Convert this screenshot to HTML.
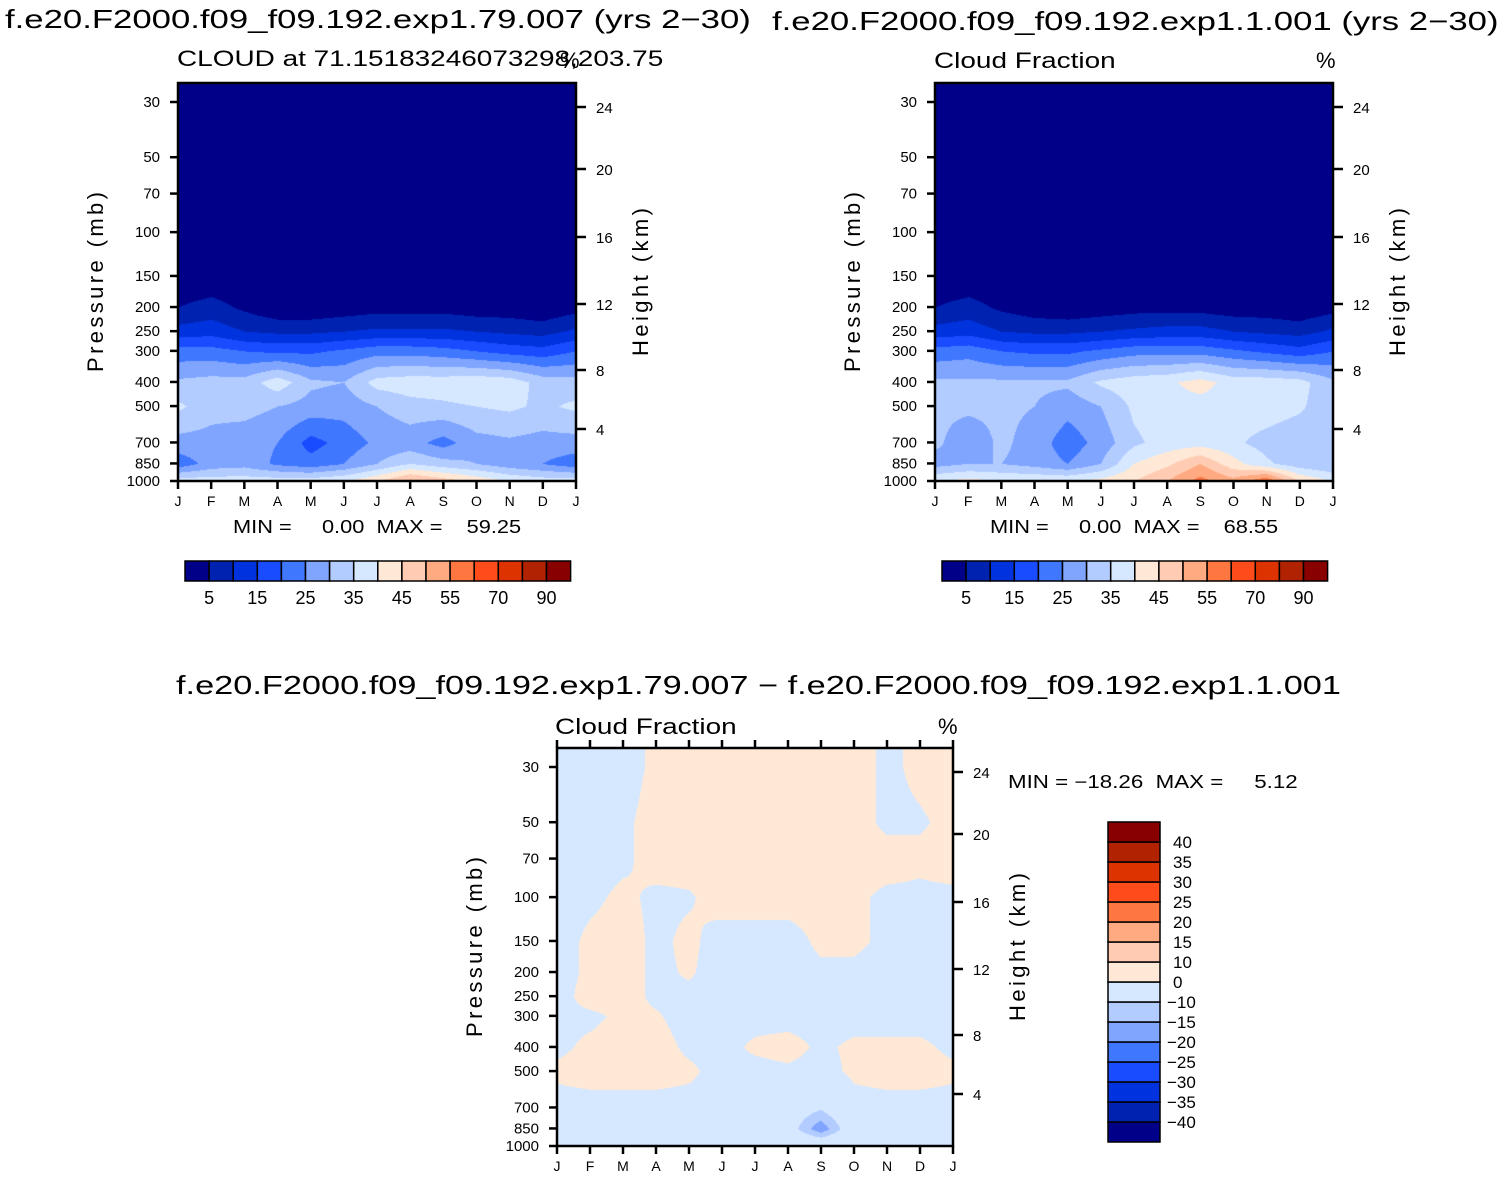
<!DOCTYPE html>
<html><head><meta charset="utf-8">
<style>
body{margin:0;background:#fff;width:1502px;height:1184px;overflow:hidden;position:relative;font-family:"Liberation Sans",sans-serif;color:#000}
.t{position:absolute;white-space:pre;line-height:1;transform-origin:0 0}
canvas{position:absolute}
svg{position:absolute;left:0;top:0}
</style></head><body>
<div class="t" style="left:5px;top:6px;font-size:26px;transform:scaleX(1.335)">f.e20.F2000.f09_f09.192.exp1.79.007 (yrs 2−30)</div>
<div class="t" style="left:772px;top:8px;font-size:26px;transform:scaleX(1.335)">f.e20.F2000.f09_f09.192.exp1.1.001 (yrs 2−30)</div>
<div class="t" style="left:177px;top:48px;font-size:22px;transform:scaleX(1.27)">CLOUD at 71.15183246073298,203.75</div>
<div class="t" style="left:560px;top:50px;font-size:22px">%</div>
<div class="t" style="left:934px;top:50px;font-size:22px;transform:scaleX(1.27)">Cloud Fraction</div>
<div class="t" style="left:1316px;top:50px;font-size:22px">%</div>
<div class="t" style="left:176px;top:672px;font-size:26px;transform:scaleX(1.32)">f.e20.F2000.f09_f09.192.exp1.79.007 − f.e20.F2000.f09_f09.192.exp1.1.001</div>
<div class="t" style="left:555px;top:716px;font-size:22px;transform:scaleX(1.27)">Cloud Fraction</div>
<div class="t" style="left:938px;top:716px;font-size:22px">%</div>
<div class="t" style="left:233px;top:518px;font-size:18px;transform:scaleX(1.21)">MIN =     0.00  MAX =    59.25</div>
<div class="t" style="left:990px;top:518px;font-size:18px;transform:scaleX(1.21)">MIN =     0.00  MAX =    68.55</div>
<div class="t" style="left:1008px;top:773px;font-size:18px;transform:scaleX(1.24)">MIN = −18.26  MAX =     5.12</div>
<canvas id="c1" width="398" height="398" style="left:178px;top:83px"></canvas>
<canvas id="c2" width="398" height="398" style="left:935px;top:83px"></canvas>
<canvas id="c3" width="396" height="398" style="left:557px;top:748px"></canvas>
<svg id="ov" width="1502" height="1184"></svg>
<script>
const months=['J','F','M','A','M','J','J','A','S','O','N','D','J'];
const plev=[1000,850,700,500,400,300,250,200,150,100,70,50,30];
const pTicks=[30,50,70,100,150,200,250,300,400,500,700,850,1000];
const hTicks=[4,8,12,16,20,24];
const hTickY=[429,370,304,237,169,107];
const levels1=[5,10,15,20,25,30,35,40,45,50,55,60,70,80,90];
const cbLabels1=['5','15','25','35','45','55','70','90'];
const levelsD=[-40,-35,-30,-25,-20,-15,-10,0,10,15,20,25,30,35,40];
const cbLabelsD=['−40','−35','−30','−25','−20','−15','−10','0','10','15','20','25','30','35','40'];
const colors=['#000088','#0022b0','#0033dd','#1a4cff','#4077ff','#80a5ff','#b3ccff','#d6e8ff','#ffe8d6','#ffccb3','#ffaa80','#ff7740','#ff4c1a','#dd3300','#b02200','#880000'];
const cloudA=[
[38,38,38,38,38,40,45,52,48,44,40,38,38],
[22,27,28,24,22,25,30,35,32,30,27,25,22],
[28,28,27,25,18,22,26,27,23,28,29,28,28],
[36,32,32,30,28,27,30,33,34,35,36,34,36],
[31,32,32,38,31,30,37,38,38,39,38,33,32],
[22,22,20,19,19,21,23,23,22,20,18,17,20],
[12,13,10,9,9,10,11,11,11,10,9,8,11],
[5,7,4,1,1,2,3,3,3,2,2,1,3],
[1,1,1,1,1,1,1,1,1,1,1,1,1],
[0,0,0,0,0,0,0,0,0,0,0,0,0],
[0,0,0,0,0,0,0,0,0,0,0,0,0],
[0,0,0,0,0,0,0,0,0,0,0,0,0],
[0,0,0,0,0,0,0,0,0,0,0,0,0]];
const cloudB=[
[40,42,40,40,40,42,45,50,57,52,60,45,40],
[28,30,30,28,25,30,40,44,50,42,36,32,30],
[31,27,31,28,22,27,34,37,38,36,33,31,31],
[31,31,31,30,27,30,36,38,38,38,38,36,31],
[31,31,31,31,31,36,38,39,42,38,38,37,31],
[22,23,20,19,19,21,23,23,23,21,19,17,20],
[12,13,10,9,9,10,11,12,12,10,9,8,11],
[5,7,4,2,1,2,3,3,3,2,2,1,3],
[1,1,1,1,1,1,1,1,1,1,1,1,1],
[0,0,0,0,0,0,0,0,0,0,0,0,0],
[0,0,0,0,0,0,0,0,0,0,0,0,0],
[0,0,0,0,0,0,0,0,0,0,0,0,0],
[0,0,0,0,0,0,0,0,0,0,0,0,0]];
const cloudDiff=[
[-1,-1,-1,-1,-1,-1,-1,-1,-1,-1,-1,-1,-1],
[-2,-2,-2,-2,-2,-2,-2,-6,-19,-4,-2,-2,-2],
[-2,-2,-2,-2,-2,-2,-2,-5,-9,-2,-2,-2,-2],
[1,2,2,2,1,-2,-2,-1,-2,1,2,2,1],
[-1,1,2,2,-1,-2,1,2,-1,1,1,1,-1],
[-1,-1,1,0.5,-2,-2,-2,-2,-2,-2,-2,-2,-2],
[-2,2,2,-1,-1,-2,-2,-2,-1,-2,-2,-2,-2],
[-2,1,2,-1,0.5,-2,-2,-2,-1,-1,-2,-2,-2],
[-2,1,2,-1,1,-2,-2,-2,1,1,-1,-1,-1],
[-2,-1,1,-1,-0.5,2,2,2,2,1,-1,-1,-1],
[-2,-2,-1,2,2,2,2,2,2,2,2,1,2],
[-2,-2,-1,2,2,2,2,2,2,2,-1,-0.5,1],
[-2,-2,-2,1,2,2,2,2,2,2,-1,1,2]];

const LN=Math.log(1000/30);
function yOfP(p,top,h){return top+h-(Math.log(1000)-Math.log(p))/LN*(h-19);}
function colorIdx(v,lv){let i=0;while(i<lv.length&&v>=lv[i])i++;return i;}
function draw(id,data,lv){
  const c=document.getElementById(id),ctx=c.getContext('2d'),W=c.width,H=c.height;
  const img=ctx.createImageData(W,H);
  const rgb=colors.map(h=>[parseInt(h.slice(1,3),16),parseInt(h.slice(3,5),16),parseInt(h.slice(5,7),16)]);
  const lp=plev.map(p=>Math.log(p));
  for(let y=0;y<H;y++){
    const p=Math.exp(Math.log(1000)-(H-y)/(H-19)*LN);
    let l=Math.log(Math.max(30,Math.min(1000,p)));
    let k=0;while(k<plev.length-2&&l<lp[k+1])k++;
    let ty=(lp[k]-l)/(lp[k]-lp[k+1]);ty=Math.max(0,Math.min(1,ty));
    for(let x=0;x<W;x++){
      const m=x/(W-1)*12;let j=Math.min(11,Math.floor(m));const tx=m-j;
      const v=(data[k][j]*(1-tx)+data[k][j+1]*tx)*(1-ty)+(data[k+1][j]*(1-tx)+data[k+1][j+1]*tx)*ty;
      const c2=rgb[colorIdx(v,lv)],o=(y*W+x)*4;
      img.data[o]=c2[0];img.data[o+1]=c2[1];img.data[o+2]=c2[2];img.data[o+3]=255;
    }
  }
  ctx.putImageData(img,0,0);
}
draw('c1',cloudA,levels1);draw('c2',cloudB,levels1);draw('c3',cloudDiff,levelsD);

const NS='http://www.w3.org/2000/svg',ov=document.getElementById('ov');
function el(t,a,txt){const e=document.createElementNS(NS,t);for(const k in a)e.setAttribute(k,a[k]);if(txt!==undefined)e.textContent=txt;ov.appendChild(e);return e;}
function axes(L,T,W,H,topTicks,pfx){
  const r=el('rect',{x:L,y:T,width:W,height:H,fill:'none',stroke:'#000','stroke-width':2.5});
  
  
  months.forEach((m,i)=>{
    const x=L+i*W/12;
    el('line',{x1:x,y1:T+H,x2:x,y2:T+H+8,stroke:'#000','stroke-width':2.5});
    if(topTicks)el('line',{x1:x,y1:T,x2:x,y2:T-8,stroke:'#000','stroke-width':2.5});
    const t=el('text',{x:x,y:T+H+25,'font-size':14,'text-anchor':'middle'},m);
    
    
  });
  pTicks.forEach(p=>{
    const y=yOfP(p,T,H);
    el('line',{x1:L,y1:y,x2:L-8,y2:y,stroke:'#000','stroke-width':2.5});
    const t=el('text',{x:L-18,y:y+5,'font-size':15,'text-anchor':'end'},p);
    
    
  });
  hTicks.forEach((h,i)=>{
    const y=T+hTickY[i]-83;
    el('line',{x1:L+W,y1:y,x2:L+W+10,y2:y,stroke:'#000','stroke-width':2.5});
    const t=el('text',{x:L+W+20,y:y+6,'font-size':15},h);
    
    
  });
  const yl=el('text',{x:0,y:0,'font-size':22,'text-anchor':'middle','textLength':180,transform:`translate(${L-75},${T+H/2}) rotate(-90)`},'Pressure (mb)');
  
  
  const hl=el('text',{x:0,y:0,'font-size':22,'text-anchor':'middle','textLength':148,transform:`translate(${L+W+72},${T+H/2}) rotate(-90)`},'Height (km)');
  
  
}
axes(178,83,398,398,false,'left');
axes(935,83,398,398,false,'right');
axes(557,748,396,398,true,'diff');
function hbar(L,T,pfx){
  const bw=24.1;
  colors.forEach((c,i)=>{
    const r=el('rect',{x:L+i*bw,y:T,width:bw,height:20,fill:c,stroke:'#000','stroke-width':1.5});
    
    
  });
  cbLabels1.forEach((s,i)=>{
    const t=el('text',{x:L+(i*2+1)*bw,y:T+43,'font-size':18,'text-anchor':'middle'},s);
    
    
  });
}
hbar(185,561,'left');hbar(942,561,'right');
colors.forEach((c,i)=>{
  const r=el('rect',{x:1108,y:1122-i*20,width:52,height:20,fill:c,stroke:'#000','stroke-width':1.5});
  
  
});
cbLabelsD.forEach((s,i)=>{
  const t=el('text',{x:s.startsWith('−')?1167:1173,y:1122-i*20+6,'font-size':17},s);
  
  
});
</script>
</body></html>
